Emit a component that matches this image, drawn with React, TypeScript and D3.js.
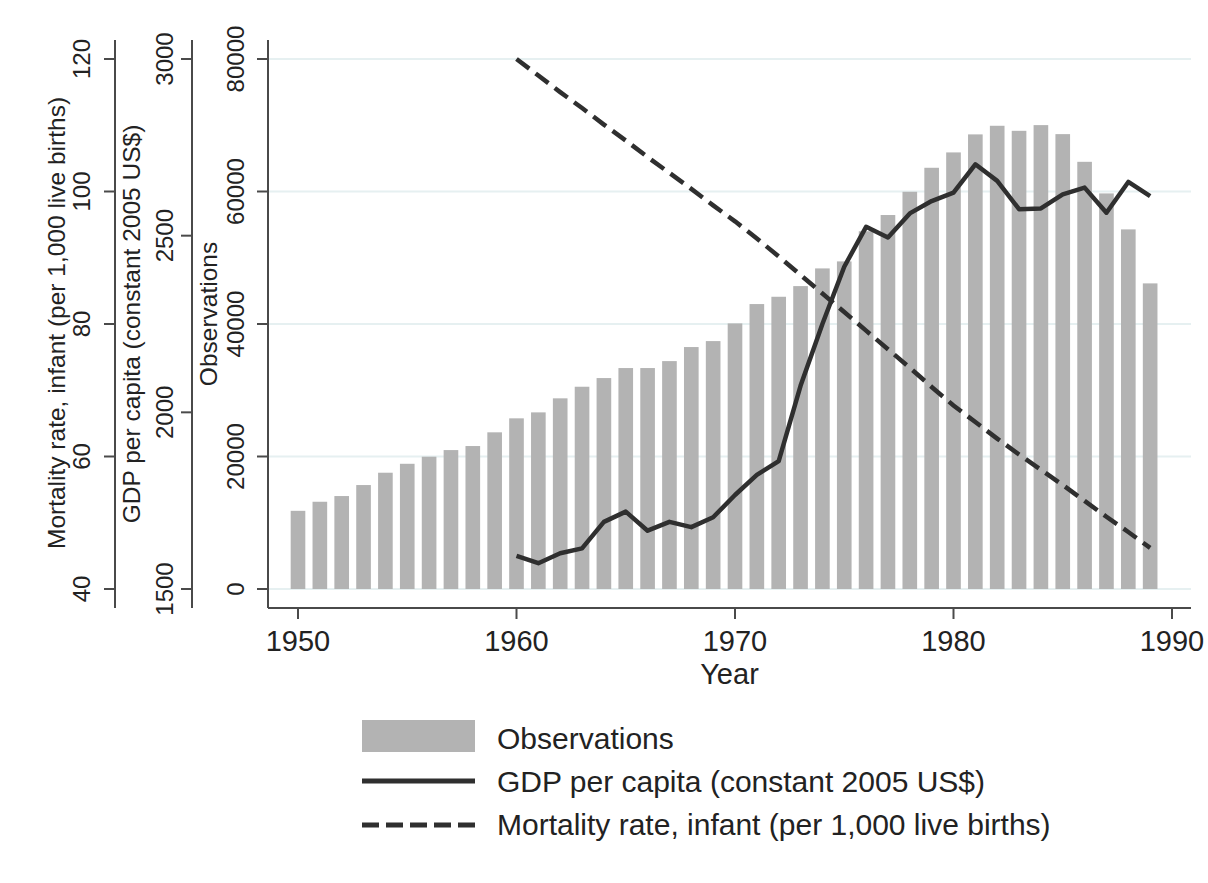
import React from "react";
import { scaleLinear, line } from "d3";

// values
const obsYears = [
  1950, 1951, 1952, 1953, 1954, 1955, 1956, 1957, 1958, 1959,
  1960, 1961, 1962, 1963, 1964, 1965, 1966, 1967, 1968, 1969,
  1970, 1971, 1972, 1973, 1974, 1975, 1976, 1977, 1978, 1979,
  1980, 1981, 1982, 1983, 1984, 1985, 1986, 1987, 1988, 1989,
];
const observations = [
  11800, 13170, 14030, 15690, 17550, 18900, 19970, 20970, 21580, 23650,
  25760, 26660, 28780, 30530, 31840, 33350, 33350, 34400, 36520, 37420,
  40090, 43010, 44110, 45720, 48390, 49450, 54000, 56450, 59960, 63580,
  65900, 68620, 69920, 69160, 70020, 68660, 64480, 59710, 54280, 46130,
];

const lineYears = [
  1960, 1961, 1962, 1963, 1964, 1965, 1966, 1967, 1968, 1969,
  1970, 1971, 1972, 1973, 1974, 1975, 1976, 1977, 1978, 1979,
  1980, 1981, 1982, 1983, 1984, 1985, 1986, 1987, 1988, 1989,
];
const gdpPerCapita = [
  1594, 1573, 1601, 1615, 1690, 1719, 1665, 1690, 1675, 1703,
  1766, 1823, 1862, 2075, 2250, 2412, 2525, 2495, 2563, 2598,
  2622, 2702, 2655, 2575, 2577, 2617, 2636, 2565, 2652, 2612,
];
const infantMortality = [
  120.0, 117.5, 115.0, 112.6, 110.1, 107.7, 105.2, 102.8, 100.4, 97.9,
  95.5, 92.9, 90.2, 87.4, 84.6, 81.8, 79.0, 76.2, 73.4, 70.5,
  67.7, 65.2, 62.7, 60.3, 58.0, 55.7, 53.3, 50.9, 48.6, 46.2,
];

const xTicks = [1950, 1960, 1970, 1980, 1990];
const obsTicks = [0, 20000, 40000, 60000, 80000];
const gdpTicks = [1500, 2000, 2500, 3000];
const mortTicks = [40, 60, 80, 100, 120];

const legendLabels = [
  "Observations",
  "GDP per capita (constant 2005 US$)",
  "Mortality rate, infant (per 1,000 live births)",
];

const FONT = "'Liberation Sans', Arial, Helvetica, sans-serif";
const BAR = "#b3b3b3";
const INK = "#2f2f2f";
const AXIS = "#4a4a4a";
const GRID = "#e6f0f1";

export default function App() {
  const left = 268;
  const right = 1191;
  const axisTop = 40;
  const axisBottom = 608;

  const x = scaleLinear().domain([1950, 1990]).range([298, 1172]);
  const yObs = scaleLinear().domain([0, 80000]).range([589, 59]);
  const yGdp = scaleLinear().domain([1500, 3000]).range([589, 59]);
  const yMort = scaleLinear().domain([40, 120]).range([589, 59]);

  const step = x(1951) - x(1950);
  const barW = step * 0.67;

  const gdpPath = line<number>()
    .x((_, i) => x(lineYears[i]))
    .y((d) => yGdp(d))(gdpPerCapita);
  const mortPath = line<number>()
    .x((_, i) => x(lineYears[i]))
    .y((d) => yMort(d))(infantMortality);

  const yAxes = [
    { ax: left, scale: yObs, ticks: obsTicks, labelX: left - 24, title: "Observations", titleX: 217, titleY: 314 },
    { ax: 192, scale: yGdp, ticks: gdpTicks, labelX: 173, title: "GDP per capita (constant 2005 US$)", titleX: 140, titleY: 324 },
    { ax: 115, scale: yMort, ticks: mortTicks, labelX: 90, title: "Mortality rate, infant (per 1,000 live births)", titleX: 65, titleY: 323 },
  ];

  return (
    <svg
      width={1208}
      height={883}
      style={{ position: "absolute", left: 0, top: 0, background: "#fff" }}
      fontFamily={FONT}
    >
      {/* grid */}
      {obsTicks.map((t) => (
        <line key={"g" + t} x1={left} x2={right} y1={yObs(t)} y2={yObs(t)} stroke={GRID} strokeWidth={2} />
      ))}

      {/* bars */}
      {observations.map((v, i) => (
        <rect
          key={"b" + i}
          x={x(obsYears[i]) - barW / 2}
          y={yObs(v)}
          width={barW}
          height={yObs(0) - yObs(v)}
          fill={BAR}
        />
      ))}

      {/* lines */}
      <path d={mortPath || ""} fill="none" stroke={INK} strokeWidth={4.5} strokeDasharray="16 8" />
      <path d={gdpPath || ""} fill="none" stroke={INK} strokeWidth={4.5} strokeLinejoin="round" />

      {/* x axis */}
      <line x1={left} x2={right} y1={axisBottom} y2={axisBottom} stroke={AXIS} strokeWidth={2} />
      {xTicks.map((t) => (
        <g key={"x" + t}>
          <line x1={x(t)} x2={x(t)} y1={axisBottom} y2={axisBottom + 11} stroke={AXIS} strokeWidth={2} />
          <text x={x(t)} y={651} fontSize={29} textAnchor="middle" fill="#222">
            {t}
          </text>
        </g>
      ))}
      <text x={(left + right) / 2} y={684} fontSize={29} textAnchor="middle" fill="#222">
        Year
      </text>

      {/* y axes */}
      {yAxes.map((a) => (
        <g key={a.title}>
          <line x1={a.ax} x2={a.ax} y1={axisTop} y2={axisBottom} stroke={AXIS} strokeWidth={2} />
          {a.ticks.map((t) => (
            <g key={t}>
              <line x1={a.ax - 11} x2={a.ax} y1={a.scale(t)} y2={a.scale(t)} stroke={AXIS} strokeWidth={2} />
              <text
                transform={`translate(${a.labelX},${a.scale(t)}) rotate(-90)`}
                fontSize={24}
                textAnchor="middle"
                fill="#222"
              >
                {t}
              </text>
            </g>
          ))}
          <text
            transform={`translate(${a.titleX},${a.titleY}) rotate(-90)`}
            fontSize={24.5}
            textAnchor="middle"
            fill="#222"
          >
            {a.title}
          </text>
        </g>
      ))}

      {/* legend */}
      <rect x={362} y={720} width={113} height={32} fill={BAR} />
      <line x1={362} x2={475} y1={781} y2={781} stroke={INK} strokeWidth={5} />
      <line x1={362} x2={475} y1={825} y2={825} stroke={INK} strokeWidth={5} strokeDasharray="17 7" />
      {legendLabels.map((l, i) => (
        <text key={l} x={497} y={[749, 792, 835][i]} fontSize={30} fill="#222">
          {l}
        </text>
      ))}
    </svg>
  );
}
